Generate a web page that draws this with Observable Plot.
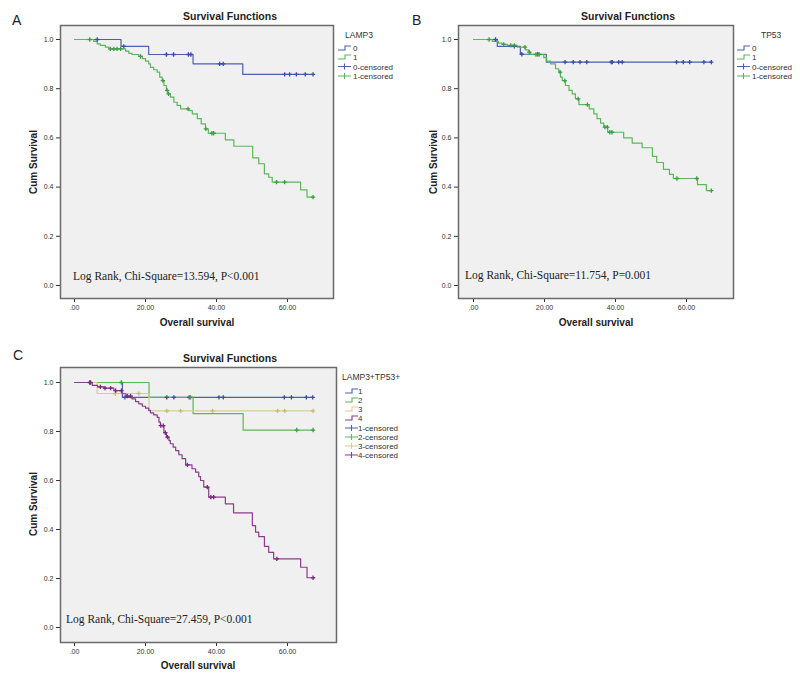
<!DOCTYPE html>
<html><head><meta charset="utf-8">
<script src="https://cdn.jsdelivr.net/npm/d3@7"></script>
<script src="https://cdn.jsdelivr.net/npm/@observablehq/plot@0.6"></script>
<style>
body{margin:0;background:#fff;}
#root{position:relative;width:800px;height:680px;background:#fff;overflow:hidden;font-family:"Liberation Sans",Arial,sans-serif;}
#root > svg{position:absolute;}
</style></head>
<body><div id="root"></div>
<script>
// ---------- shared labels / ticks ----------
const xTicks = [0, 20, 40, 60];
const yTicks = [0, 0.2, 0.4, 0.6, 0.8, 1.0];
const titleText = "Survival Functions";
const yLabelText = "Cum Survival";
const xLabelText = "Overall survival";

// ---------- Panel A : LAMP3 ----------
const A_legendTitle = "LAMP3";
const A_groups = ["0", "1"];
const A_stat = "Log Rank, Chi-Square=13.594, P<0.001";
const A0_time = [0, 13.1, 20.9, 33.4, 47.4, 67.2];
const A0_surv = [1, 0.972, 0.939, 0.901, 0.858, 0.858];
const A0_cens = [6.4, 13.9, 25.9, 27.9, 32.1, 32.8, 40.9, 41.9, 59.2, 60.6, 62.5, 65.0, 67.2];
const A1_time = [0, 5.4, 6.4, 7.3, 8.7, 9.7, 14.4, 15.3, 16.2, 18.1, 19.1, 20.0, 20.9, 21.4, 22.3, 23.3, 24.0, 24.7, 25.2, 25.9, 26.3, 27.0, 28.0, 28.9, 29.9, 32.2, 33.2, 34.6, 35.7, 36.9, 37.7, 42.5, 44.9, 50.2, 51.9, 53.5, 54.7, 55.7, 63.7, 65.5, 67.2];
const A1_surv = [1, 0.992, 0.982, 0.976, 0.969, 0.962, 0.953, 0.944, 0.939, 0.931, 0.922, 0.912, 0.901, 0.887, 0.877, 0.867, 0.847, 0.833, 0.813, 0.793, 0.779, 0.766, 0.745, 0.732, 0.718, 0.711, 0.698, 0.678, 0.657, 0.637, 0.619, 0.592, 0.566, 0.519, 0.495, 0.454, 0.440, 0.420, 0.389, 0.359, 0.359];
const A1_cens = [4.3, 10.1, 11.1, 12.0, 13.0, 18.6, 24.9, 26.1, 26.5, 32.0, 37.0, 38.7, 39.2, 56.9, 59.2, 67.2];

// ---------- Panel B : TP53 ----------
const B_legendTitle = "TP53";
const B_groups = ["0", "1"];
const B_stat = "Log Rank, Chi-Square=11.754, P=0.001";
const B0_time = [0, 6.7, 13.2, 20.5, 67.0];
const B0_surv = [1, 0.972, 0.940, 0.908, 0.908];
const B0_cens = [6.2, 11.5, 13.6, 18.1, 25.8, 28.1, 30.0, 31.9, 38.8, 39.1, 40.9, 41.9, 57.2, 59.1, 60.9, 64.9, 67.0];
const B1_time = [0, 5.3, 7.0, 8.1, 9.5, 12.3, 14.6, 15.6, 16.1, 19.8, 20.6, 21.7, 23.1, 24.0, 24.5, 25.0, 25.9, 26.9, 27.8, 28.7, 29.7, 32.6, 33.9, 34.8, 35.8, 36.7, 37.8, 42.3, 44.7, 47.5, 50.4, 51.6, 53.5, 55.2, 56.3, 63.1, 65.6, 67.0];
const B1_surv = [1, 0.992, 0.985, 0.980, 0.976, 0.969, 0.958, 0.949, 0.939, 0.926, 0.912, 0.901, 0.881, 0.867, 0.847, 0.833, 0.813, 0.793, 0.779, 0.759, 0.735, 0.718, 0.698, 0.678, 0.660, 0.644, 0.623, 0.600, 0.579, 0.560, 0.525, 0.500, 0.472, 0.452, 0.435, 0.410, 0.386, 0.386];
const B1_cens = [4.4, 8.5, 10.5, 11.5, 14.5, 15.7, 17.6, 18.5, 24.4, 25.7, 29.5, 32.1, 37.0, 37.7, 38.4, 39.0, 57.3, 62.9, 67.0];

// ---------- Panel C : LAMP3+TP53+ ----------
const C_legendTitle = "LAMP3+TP53+";
const C_groups = ["1", "2", "3", "4"];
const C_stat = "Log Rank, Chi-Square=27.459, P<0.001";
const C1_time = [0, 13.5, 67.2];
const C1_surv = [1, 0.939, 0.939];
const C1_cens = [14.2, 26.0, 28.0, 32.3, 40.7, 41.9, 59.1, 61.1, 65.3, 67.1];
const C2_time = [0, 21.0, 33.4, 47.5, 67.2];
const C2_surv = [1, 0.939, 0.873, 0.806, 0.806];
const C2_cens = [13.2, 32.7, 62.6, 67.2];
const C3_time = [0, 6.4, 21.0, 67.2];
const C3_surv = [1, 0.955, 0.884, 0.884];
const C3_cens = [11.5, 18.1, 26.0, 29.9, 38.9, 57.2, 59.2, 67.2];
const C4_time = [0, 5.0, 6.5, 8.3, 11.1, 13.4, 14.5, 16.2, 17.2, 18.1, 19.1, 20.0, 20.9, 21.4, 22.3, 23.3, 23.8, 24.2, 25.2, 25.9, 26.6, 27.0, 27.8, 28.5, 29.4, 30.3, 31.3, 33.1, 34.1, 35.0, 35.5, 36.4, 37.8, 42.5, 44.8, 50.1, 51.0, 51.9, 53.5, 54.7, 56.1, 63.7, 65.5, 67.2];
const C4_surv = [1, 0.988, 0.982, 0.977, 0.967, 0.954, 0.944, 0.933, 0.922, 0.913, 0.903, 0.895, 0.886, 0.876, 0.868, 0.858, 0.838, 0.824, 0.795, 0.777, 0.763, 0.750, 0.736, 0.722, 0.705, 0.689, 0.664, 0.648, 0.634, 0.616, 0.600, 0.573, 0.532, 0.505, 0.468, 0.416, 0.389, 0.371, 0.331, 0.307, 0.280, 0.246, 0.203, 0.203];
const C4_cens = [4.3, 4.5, 7.3, 8.6, 10.2, 11.6, 13.2, 14.9, 15.8, 24.3, 25.0, 25.6, 26.2, 31.8, 37.4, 38.4, 39.2, 57.0, 67.2];

// ---------- colours ----------
const COL = {
  blue:   {line: "#4c5fb1", mark: "#3a4ea6"},
  green:  {line: "#5cb65c", mark: "#3f9e45"},
  tan:    {line: "#d6cd8f", mark: "#c8bc72"},
  purple: {line: "#8d3b8f", mark: "#7a2a80"}
};

// ---------- helpers ----------
function steps(time, surv) { return time.map((t, i) => ({t, s: surv[i]})); }
function censorPts(cens, time, surv) {
  return cens.map(c => {
    let idx = 0;
    for (let k = 0; k < time.length; k++) if (time[k] <= c) idx = k;
    return {t: c, s: surv[idx]};
  });
}
const fmtX = d => d === 0 ? ".00" : d.toFixed(2);
const fmtY = d3.format(".1f");

function panelPlot(cfg) {
  const marks = [
    Plot.frame({fill: "#f0f0f0"}),
    Plot.axisX(xTicks, {tickFormat: fmtX, tickSize: 4, tickPadding: 3, fontSize: 7, label: null}),
    Plot.axisY(yTicks, {tickFormat: fmtY, tickSize: 4, tickPadding: 3, fontSize: 7, label: null})
  ];
  for (const s of cfg.series) {
    marks.push(Plot.line(steps(s.time, s.surv), {x: "t", y: "s", curve: "step-after", stroke: s.col.line, strokeWidth: 1.2}));
  }
  for (const s of cfg.series) {
    marks.push(Plot.dot(censorPts(s.cens, s.time, s.surv), {x: "t", y: "s", symbol: "plus", r: 1.5, stroke: s.col.mark, strokeWidth: 1.3}));
  }
  marks.push(Plot.frame({stroke: "#6a6a6a", strokeWidth: 1.5}));
  return Plot.plot({
    width: 400, height: cfg.height,
    marginTop: 25, marginBottom: cfg.mb, marginLeft: cfg.ml, marginRight: cfg.mr,
    x: {domain: cfg.xd, label: null},
    y: {domain: cfg.yd, label: null},
    style: {background: "transparent", color: "#333", fontFamily: "Liberation Sans, Arial, sans-serif", fontSize: "7px", overflow: "visible"},
    marks
  });
}

const root = document.getElementById("root");

const panels = [
  {left: 0, top: 0, height: 320, mb: 22, ml: 60, mr: 67, xd: [-3.94, 72.96], yd: [-0.0528, 1.0569],
   series: [
     {time: A0_time, surv: A0_surv, cens: A0_cens, col: COL.blue},
     {time: A1_time, surv: A1_surv, cens: A1_cens, col: COL.green}
   ]},
  {left: 400, top: 0, height: 320, mb: 22, ml: 58, mr: 67, xd: [-4.23, 73.24], yd: [-0.0528, 1.0569],
   series: [
     {time: B0_time, surv: B0_surv, cens: B0_cens, col: COL.blue},
     {time: B1_time, surv: B1_surv, cens: B1_cens, col: COL.green}
   ]},
  {left: 0, top: 342, height: 322, mb: 22, ml: 60, mr: 64, xd: [-3.94, 73.8], yd: [-0.0612, 1.0612],
   series: [
     {time: C1_time, surv: C1_surv, cens: C1_cens, col: COL.blue},
     {time: C2_time, surv: C2_surv, cens: C2_cens, col: COL.green},
     {time: C3_time, surv: C3_surv, cens: C3_cens, col: COL.tan},
     {time: C4_time, surv: C4_surv, cens: C4_cens, col: COL.purple}
   ]}
];

for (const p of panels) {
  const svg = panelPlot(p);
  svg.style.left = p.left + "px";
  svg.style.top = p.top + "px";
  root.appendChild(svg);
}

// ---------- text overlay ----------
const ov = d3.select(root).append("svg")
  .attr("width", 800).attr("height", 680)
  .style("left", "0px").style("top", "0px")
  .style("pointer-events", "none");

function txt(x, y, s, o = {}) {
  const t = ov.append("text").attr("x", x).attr("y", y).text(s)
    .attr("font-family", o.family || "Liberation Sans, Arial, sans-serif")
    .attr("font-size", o.size || 8)
    .attr("font-weight", o.weight || "normal")
    .attr("fill", o.fill || "#222")
    .attr("text-anchor", o.anchor || "start");
  if (o.rotate) t.attr("transform", `rotate(${o.rotate},${x},${y})`);
  return t;
}

function legend(x, yTitle, title, groups, cols, iconX, textX, rowY) {
  txt(x, yTitle, title, {size: 8.5, fill: "#333"});
  const rows = [];
  groups.forEach((g, i) => rows.push({label: g, col: cols[i], kind: "step"}));
  groups.forEach((g, i) => rows.push({label: g + "-censored", col: cols[i], kind: "cens"}));
  rows.forEach((r, i) => {
    const cy = rowY[i];
    if (r.kind === "step") {
      ov.append("path").attr("d", `M${iconX},${cy + 2}H${iconX + 7}V${cy - 2}H${iconX + 13}`)
        .attr("fill", "none").attr("stroke", r.col.line).attr("stroke-width", 1.1);
    } else {
      ov.append("path").attr("d", `M${iconX},${cy}H${iconX + 13}M${iconX + 6.5},${cy - 3}V${cy + 3}`)
        .attr("fill", "none").attr("stroke", r.col.line).attr("stroke-width", 1.1);
    }
    txt(textX, cy + 3, r.label, {size: 8, fill: "#333"});
  });
}

const statFont = "Liberation Serif, Times New Roman, serif";

// Panel A texts
txt(12, 25, "A", {size: 14});
txt(230, 20, titleText, {size: 10.5, weight: "bold", anchor: "middle"});
txt(37, 162, yLabelText, {size: 10, weight: "bold", anchor: "middle", rotate: -90});
txt(197, 326, xLabelText, {size: 10, weight: "bold", anchor: "middle"});
txt(73, 280, A_stat, {size: 11.5, family: statFont, fill: "#222"});
legend(345, 38, A_legendTitle, A_groups, [COL.blue, COL.green], 338, 353, [48, 57, 66.5, 76]);

// Panel B texts
txt(412, 25, "B", {size: 14});
txt(628, 20, titleText, {size: 10.5, weight: "bold", anchor: "middle"});
txt(437, 162, yLabelText, {size: 10, weight: "bold", anchor: "middle", rotate: -90});
txt(596, 326, xLabelText, {size: 10, weight: "bold", anchor: "middle"});
txt(465, 279, B_stat, {size: 11.5, family: statFont, fill: "#222"});
legend(761, 38, B_legendTitle, B_groups, [COL.blue, COL.green], 737, 752, [48, 57, 66.5, 76]);

// Panel C texts
txt(13, 360, "C", {size: 14});
txt(230, 362, titleText, {size: 10.5, weight: "bold", anchor: "middle"});
txt(37, 504, yLabelText, {size: 10, weight: "bold", anchor: "middle", rotate: -90});
txt(198, 669, xLabelText, {size: 10, weight: "bold", anchor: "middle"});
txt(66, 623, C_stat, {size: 11.5, family: statFont, fill: "#222"});
legend(342, 380, C_legendTitle, C_groups, [COL.blue, COL.green, COL.tan, COL.purple], 345, 358,
  [391, 400, 409, 418, 428, 437, 446, 455]);
</script>
</body></html>
